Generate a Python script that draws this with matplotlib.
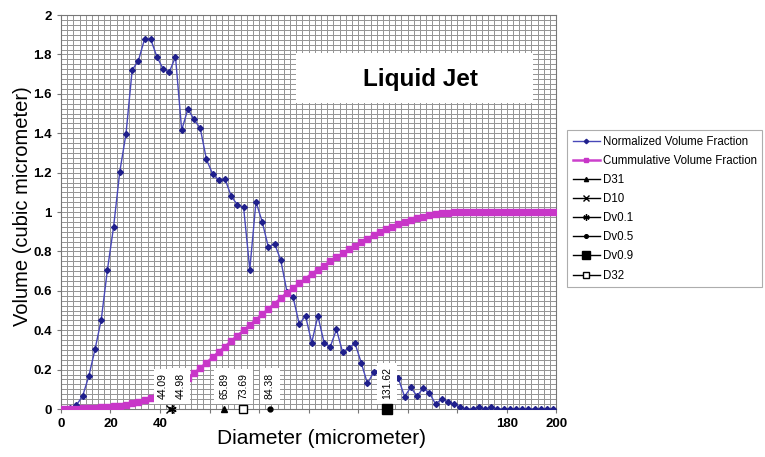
import matplotlib
matplotlib.use('Agg')
import matplotlib.pyplot as plt
import numpy as np
from matplotlib.ticker import MultipleLocator
from matplotlib.patches import Rectangle

plt.rcParams['font.family'] = ['Liberation Sans', 'DejaVu Sans']

# bin centres (micrometer)
diameter = np.arange(1.25, 200, 2.5)

normalized = [0.0, 0.005, 0.02, 0.066, 0.167, 0.303, 0.452, 0.706, 0.925, 1.205,
              1.396, 1.721, 1.768, 1.878, 1.877, 1.788, 1.727, 1.711, 1.788, 1.416,
              1.523, 1.47, 1.425, 1.267, 1.193, 1.162, 1.168, 1.08, 1.037, 1.024,
              0.708, 1.052, 0.951, 0.822, 0.84, 0.756, 0.596, 0.567, 0.43, 0.474,
              0.337, 0.472, 0.337, 0.316, 0.404, 0.288, 0.311, 0.333, 0.235, 0.13,
              0.186, 0.2, 0.185, 0.17, 0.156, 0.063, 0.11, 0.066, 0.105, 0.083,
              0.025, 0.05, 0.037, 0.024, 0.009, 0.0, 0.0, 0.01, 0.0, 0.01,
              0.0, 0.0, 0.0, 0.0, 0.0, 0.0, 0.0, 0.0, 0.0, 0.0]

cumulative = [0.0, 0.001, 0.002, 0.003, 0.004, 0.006, 0.008, 0.010, 0.013, 0.017,
              0.022, 0.028, 0.036, 0.046, 0.058, 0.072, 0.088, 0.105, 0.123, 0.142,
              0.160, 0.182, 0.208, 0.235, 0.262, 0.290, 0.317, 0.345, 0.372, 0.399,
              0.426, 0.453, 0.480, 0.508, 0.535, 0.562, 0.590, 0.614, 0.638, 0.662,
              0.686, 0.708, 0.728, 0.750, 0.770, 0.790, 0.810, 0.830, 0.848, 0.865,
              0.882, 0.898, 0.912, 0.926, 0.938, 0.950, 0.960, 0.968, 0.976, 0.983,
              0.989, 0.993, 0.996, 0.998, 0.999, 1.0, 1.0, 1.0, 1.0, 1.0,
              1.0, 1.0, 1.0, 1.0, 1.0, 1.0, 1.0, 1.0, 1.0, 1.0]

d_names = ['D31', 'D10', 'Dv0.1', 'Dv0.5', 'Dv0.9', 'D32']
d_values = [65.89, 44.09, 44.98, 84.38, 131.62, 73.69]
d_markers = ['^', 'x', (6, 2, 0), 'o', 's', 's']
d_sizes = [4, 6, 6, 3.5, 7, 5.5]
d_face = ['k', 'k', 'k', 'k', 'k', 'white']
d_label_dx = [0, -5, 6, 0, 0, 0]

xticks = [0, 20, 40, 60, 80, 100, 120, 140, 160, 180, 200]
xticklabels = ['0', '20', '40', '', '', '', '', '', '', '180', '200']
yticks = [0, 0.2, 0.4, 0.6, 0.8, 1.0, 1.2, 1.4, 1.6, 1.8, 2.0]
yticklabels = ['0', '0.2', '0.4', '0.6', '0.8', '1', '1.2', '1.4', '1.6', '1.8', '2']

fig = plt.figure(figsize=(7.65, 4.57), dpi=100)
ax = fig.add_axes([0.0797, 0.105, 0.6474, 0.862])

ax.plot(diameter, normalized, color='#4848b8', lw=1.0, marker='D', ms=3,
        mfc='#20208c', mec='#20208c', label='Normalized Volume Fraction', zorder=3)
ax.plot(diameter, cumulative, color='#cc40cc', lw=1.8, marker='s', ms=4.5,
        mfc='#c836c8', mec='#c836c8', label='Cummulative Volume Fraction', zorder=3)

for name, val, mk, sz, fc, dx in zip(d_names, d_values, d_markers, d_sizes, d_face, d_label_dx):
    ax.plot([val], [0], color='k', lw=1, marker=mk, ms=sz, mfc=fc, mec='k',
            label=name, zorder=6, clip_on=False)
    ax.annotate('%.2f' % val, xy=(val, 0), xytext=(dx, 7), textcoords='offset points',
                rotation=90, ha='center', va='bottom', fontsize=7.5, zorder=5,
                bbox=dict(boxstyle='square,pad=0.45', fc='white', ec='none'))

# title box
ax.add_patch(Rectangle((94.8, 1.553), 96, 0.254, fc='white', ec='none', zorder=4))
ax.text(145, 1.675, 'Liquid Jet', fontsize=17.5, fontweight='bold',
        ha='center', va='center', zorder=5)

ax.set_xlim(0, 200)
ax.set_ylim(0, 2)
ax.set_xticks(xticks)
ax.set_xticklabels(xticklabels)
ax.set_yticks(yticks)
ax.set_yticklabels(yticklabels)
ax.xaxis.set_minor_locator(MultipleLocator(2.5))
ax.yaxis.set_minor_locator(MultipleLocator(0.025))
ax.grid(which='both', color='#969696', lw=0.72, antialiased=False)
ax.set_axisbelow(True)
ax.tick_params(which='major', length=3, color='#777777', labelsize=9.5)
ax.tick_params(which='minor', length=0)
for lab in ax.get_xticklabels() + ax.get_yticklabels():
    lab.set_fontweight('bold')
for sp in ax.spines.values():
    sp.set_color('#777777')

ax.set_xlabel('Diameter (micrometer)', fontsize=15)
ax.set_ylabel('Volume (cubic micrometer)', fontsize=14.5)
ax.xaxis.set_label_coords(0.527, -0.052)
ax.yaxis.set_label_coords(-0.059, 0.515)

leg = fig.legend(loc='upper left', bbox_to_anchor=(0.741, 0.716), fontsize=8.3,
                 frameon=True, fancybox=False, edgecolor='#999999',
                 handlelength=2.4, handletextpad=0.2, labelspacing=0.62,
                 borderaxespad=0, borderpad=0.5, markerscale=0.75)
leg.get_frame().set_linewidth(0.8)

fig.savefig('out.png', dpi=100)
